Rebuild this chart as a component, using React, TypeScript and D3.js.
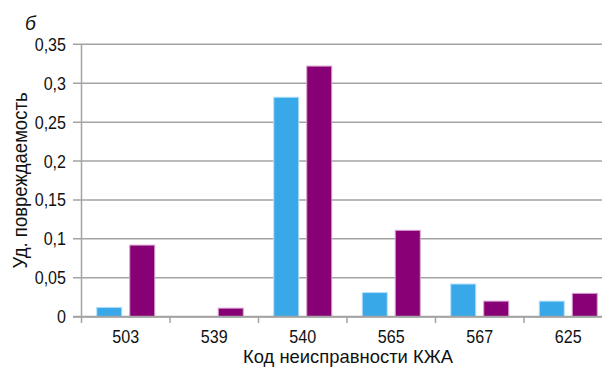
import React from "react";
import * as d3 from "d3";

// Fault codes on the x axis and the two series of specific damage rates
const categories = ["503", "539", "540", "565", "567", "625"];
const seriesKeys = ["a", "b"];
const seriesA = [0.012, 0, 0.282, 0.031, 0.042, 0.02];
const seriesB = [0.092, 0.011, 0.322, 0.111, 0.02, 0.03];
const yTicks = [0, 0.05, 0.1, 0.15, 0.2, 0.25, 0.3, 0.35];
const yTickLabels = ["0", "0,05", "0,1", "0,15", "0,2", "0,25", "0,3", "0,35"];

const W = 602;
const H = 367;
const FONT = "'Liberation Sans', Arial, sans-serif";

const colors = ["#38a8e8", "#870076"];
const outlines = ["#b4e0f8", "#d8a4cf"];
const grid = "#a3a3a3";

type TxtProps = {
  x: number;
  y: number;
  size: number;
  sx?: number;
  anchor?: "start" | "middle" | "end";
  rotate?: number;
  italic?: boolean;
  children: React.ReactNode;
};

// Text squeezed horizontally for a condensed typeface look
function Txt({ x, y, size, sx = 0.92, anchor = "start", rotate = 0, italic = false, children }: TxtProps) {
  return (
    <text
      transform={`translate(${x},${y}) rotate(${rotate}) scale(${sx},1)`}
      textAnchor={anchor}
      fontSize={size}
      fontStyle={italic ? "italic" : "normal"}
      fill="#111"
    >
      {children}
    </text>
  );
}

export default function App() {
  const x = d3.scaleBand<string>().domain(categories).range([81.5, 612.5]).paddingInner(0).paddingOuter(0);
  const inner = d3
    .scaleBand<string>()
    .domain(seriesKeys)
    .range([0, x.bandwidth()])
    .paddingInner(8 / 33)
    .paddingOuter(0.462);
  const y = d3.scaleLinear().domain([0, 0.35]).range([316.7, 44.3]);
  const values = [seriesA, seriesB];

  return (
    <svg
      width={W}
      height={H}
      style={{ position: "absolute", left: 0, top: 0, background: "#fff" }}
      fontFamily={FONT}
    >
      {/* horizontal grid */}
      {yTicks.map((t, i) => (
        <line key={"g" + i} x1={73} x2={W} y1={y(t)} y2={y(t)} stroke={grid} strokeWidth={1.5} />
      ))}
      {/* y axis line */}
      <line x1={81.5} x2={81.5} y1={y(0.35)} y2={323} stroke={grid} strokeWidth={1.5} />
      {/* category separators */}
      {categories.slice(1).map((c) => (
        <line key={"t" + c} x1={x(c)!} x2={x(c)!} y1={y(0)} y2={323} stroke={grid} strokeWidth={1.5} />
      ))}
      {/* bars */}
      {categories.map((c, ci) =>
        seriesKeys.map((k, si) => {
          const v = values[si][ci];
          if (v <= 0) return null;
          const bx = x(c)! + inner(k)!;
          return (
            <rect
              key={c + k}
              x={bx}
              y={y(v)}
              width={inner.bandwidth()}
              height={y(0) - y(v)}
              fill={colors[si]}
              stroke={outlines[si]}
              strokeWidth={1}
            />
          );
        })
      )}
      {/* baseline over bars */}
      <line x1={73} x2={W} y1={y(0)} y2={y(0)} stroke={grid} strokeWidth={2} />
      {/* y tick labels */}
      {yTicks.map((t, i) => (
        <Txt key={"yl" + i} x={66} y={y(t) + 6.5} size={17.5} anchor="end">
          {yTickLabels[i]}
        </Txt>
      ))}
      {/* category labels */}
      {categories.map((c) => (
        <Txt key={"xl" + c} x={x(c)! + x.bandwidth() / 2} y={343} size={17.5} anchor="middle">
          {c}
        </Txt>
      ))}
      {/* axis titles */}
      <Txt x={348} y={362.5} size={19} sx={0.97} anchor="middle">
        Код неисправности КЖА
      </Txt>
      <Txt x={27} y={180.5} size={19.5} sx={0.95} anchor="middle" rotate={-90}>
        Уд. повреждаемость
      </Txt>
      <Txt x={25} y={30} size={21} italic>
        б
      </Txt>
    </svg>
  );
}
